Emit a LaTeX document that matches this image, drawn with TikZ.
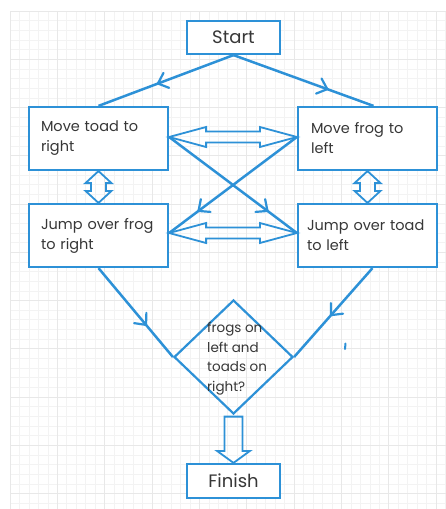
\documentclass[tikz,border=0pt]{standalone}
\usepackage{fontspec}
\setmainfont{Poppins}
\usetikzlibrary{shapes.geometric,calc,decorations.markings}
\definecolor{flow}{RGB}{45,145,215}
\definecolor{ink}{RGB}{55,55,55}
\definecolor{gridminor}{RGB}{243,243,243}
\definecolor{gridmajor}{RGB}{232,232,232}

% hollow double arrow between two points on a horizontal line
\newcommand\hdbl[2]{\draw[hollow] (#1) -- ($(#1)+(37,-10)$) -- ($(#1)+(37,-5.5)$)
  -- ($(#2)+(-37,-5.5)$) -- ($(#2)+(-37,-10)$) -- (#2) -- ($(#2)+(-37,10)$)
  -- ($(#2)+(-37,5.5)$) -- ($(#1)+(37,5.5)$) -- ($(#1)+(37,10)$) -- cycle;}
% hollow double arrow between two points on a vertical line
\newcommand\vdbl[2]{\draw[hollow] (#1) -- ($(#1)+(13,12)$) -- ($(#1)+(7.5,12)$)
  -- ($(#2)+(7.5,-12)$) -- ($(#2)+(13,-12)$) -- (#2) -- ($(#2)+(-13,-12)$)
  -- ($(#2)+(-7.5,-12)$) -- ($(#1)+(-7.5,12)$) -- ($(#1)+(-13,12)$) -- cycle;}

\begin{document}
\begin{tikzpicture}[x=1pt,y=-1pt,
  box/.style={draw=flow, fill=white, line width=2.2pt, rectangle, inner sep=0pt,
    minimum width=139pt, minimum height=63pt, align=left, text=ink,
    font=\fontsize{14.5}{20}\selectfont},
  term/.style={draw=flow, fill=white, line width=2.2pt, rectangle, inner sep=0pt,
    minimum width=93pt, minimum height=33pt, text=ink,
    font=\fontsize{18}{22}\selectfont},
  link/.style={draw=flow, line width=2.5pt},
  hollow/.style={draw=flow, line width=1.8pt, line join=miter},
  midarrow/.style={postaction={decorate, decoration={markings,
    mark=at position #1 with {\draw[flow, line width=2.2pt, line cap=round, line join=round]
      (-9pt,8pt) -- (0pt,0pt) -- (-9pt,-8pt);}}}}
]
\useasboundingbox (0,0) rectangle (446,509);
\fill[white] (0,0) rectangle (446,509);

% squared paper
\foreach \i in {0,...,46} {
  \pgfmathsetmacro\gx{10+\i*9.47}
  \draw[gridminor, line width=0.7pt] (\gx,11) -- (\gx,509);
}
\foreach \j in {0,...,51} {
  \pgfmathsetmacro\gy{11+\j*9.65}
  \draw[gridminor, line width=0.7pt] (10,\gy) -- (446,\gy);
}
\foreach \i in {0,5,...,45} {
  \pgfmathsetmacro\gx{10+\i*9.47}
  \draw[gridmajor, line width=0.7pt] (\gx,11) -- (\gx,509);
}
\foreach \j in {0,5,...,50} {
  \pgfmathsetmacro\gy{11+\j*9.65}
  \draw[gridmajor, line width=0.7pt] (10,\gy) -- (446,\gy);
}

% steps
\node[term] (st) at (233.5,37.5) {Start};
\node[box, text width=115pt] (mt) at (98.5,138.5) {Move toad to\\right};
\node[box, text width=113pt] (mf) at (367.5,138.5) {Move frog to\\left};
\node[box, text width=115pt] (jf) at (98.5,235.5) {Jump over frog\\to right};
\node[box, text width=121pt] (jt) at (367.5,235.5) {Jump over toad\\to left};
\node[diamond, draw=flow, line width=2.2pt, inner sep=0pt,
  minimum width=119pt, minimum height=114pt] (d) at (233.5,357) {};
\node[anchor=north west, inner sep=0pt, align=left, text=ink,
  font=\fontsize{13.5}{19.5}\selectfont] (dq) at (207,322) {frogs on\\left and\\toads on\\right?};
\node[term, minimum height=34pt] (fin) at (233.5,481) {Finish};

% attachment points of the sideways links
\coordinate (a1) at ([yshift=1.5pt]mt.east);
\coordinate (b1) at ([yshift=1.5pt]mf.west);
\coordinate (a2) at ([yshift=2.5pt]jf.east);
\coordinate (b2) at ([yshift=2.5pt]jt.west);

% links
\draw[link, midarrow=0.56] (st.south) -- (mt.north);
\draw[link, midarrow=0.67] (st.south) -- ([xshift=6pt]mf.north);
\draw[link, midarrow=0.77] (a1) -- (b2);
\draw[link, midarrow=0.77] (b1) -- (a2);
\draw[link, midarrow=0.64] (jf.south) -- (d.west);
\draw[link, midarrow=0.53] ([xshift=5pt]jt.south) -- (d.east);

% two-way moves
\hdbl{a1}{b1}
\hdbl{a2}{b2}
\vdbl{mt.south}{jf.north}
\vdbl{mf.south}{jt.north}

% exit to finish
\draw[hollow] ($(d.south)+(-9,1.5)$) -- ($(d.south)+(9,1.5)$) -- ($(fin.north)+(9,-12)$)
  -- ($(fin.north)+(16.5,-12)$) -- (fin.north) -- ($(fin.north)+(-16.5,-12)$)
  -- ($(fin.north)+(-9,-12)$) -- cycle;

% stray pen mark
\draw[flow, line width=2pt, line cap=round] (345.5,343.5) -- (345,349);
\end{tikzpicture}
\end{document}
